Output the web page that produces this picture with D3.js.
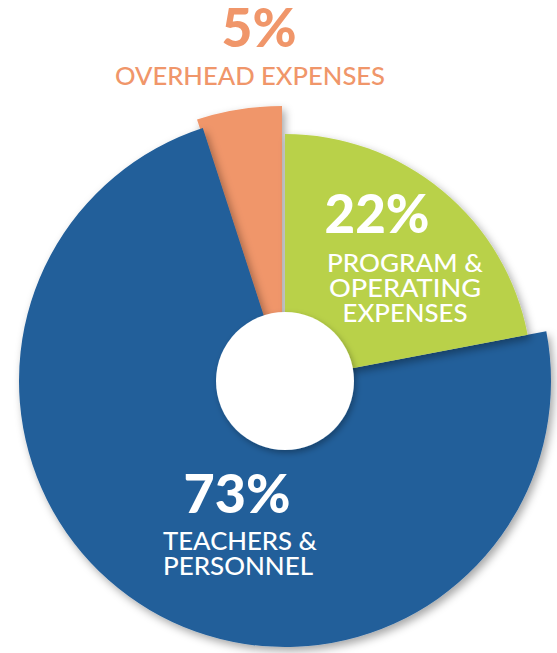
<!DOCTYPE html>
<html>
<head>
<meta charset="utf-8">
<script src="https://cdn.jsdelivr.net/npm/d3@7"></script>
<style>
  html, body { margin: 0; padding: 0; background: #fff; }
  svg { display: block; }
</style>
</head>
<body>
<svg id="chart" width="557" height="653"></svg>
<script>
// Data, in clockwise order from 12 o'clock
var categories = ["program", "teachers", "overhead"];
var values = [22, 73, 5];
var pctLabels = ["22%", "73%", "5%"];
var nameLines = [["PROGRAM &", "OPERATING", "EXPENSES"], ["TEACHERS &", "PERSONNEL"], ["OVERHEAD EXPENSES"]];

// Styling / layout per slice
var colors = { program: "#b9d14a", teachers: "#215e9a", overhead: "#f0966a" };
var outerR = { program: 247, teachers: 266, overhead: 275 };
var shift = { program: [0, 0], teachers: [0, 0], overhead: [-3, 0] };
var drawOrder = ["overhead", "teachers", "program"];

var svg = d3.select("#chart"),
    cx = 285,
    cy = 381,
    innerR = 69;

// Soft drop shadow like the reference
var defs = svg.append("defs");
defs.append("filter")
    .attr("id", "shadow")
    .attr("x", "-20%").attr("y", "-20%")
    .attr("width", "140%").attr("height", "140%")
  .append("feDropShadow")
    .attr("dx", 3).attr("dy", 4)
    .attr("stdDeviation", 4)
    .attr("flood-color", "#000")
    .attr("flood-opacity", 0.35);

var pie = d3.pie().sort(null).value(function (d) { return d.value; });
var slices = pie(categories.map(function (c, i) {
    return { key: c, value: values[i], pct: pctLabels[i], lines: nameLines[i] };
}));

var byKey = {};
slices.forEach(function (s) { byKey[s.data.key] = s; });

var g = svg.append("g").attr("transform", "translate(" + cx + "," + cy + ")");

drawOrder.forEach(function (k) {
    var s = byKey[k];
    var arc = d3.arc().innerRadius(0).outerRadius(outerR[k]);
    g.append("path")
        .attr("d", arc(s))
        .attr("transform", "translate(" + shift[k][0] + "," + shift[k][1] + ")")
        .attr("fill", colors[k])
        .attr("filter", "url(#shadow)");
});

// Hole in the middle
defs.append("filter")
    .attr("id", "holeShadow")
    .attr("x", "-30%").attr("y", "-30%")
    .attr("width", "160%").attr("height", "160%")
  .append("feDropShadow")
    .attr("dx", 2).attr("dy", 3)
    .attr("stdDeviation", 3)
    .attr("flood-color", "#000")
    .attr("flood-opacity", 0.3);

g.append("circle")
    .attr("r", innerR)
    .attr("fill", "#fff")
    .attr("filter", "url(#holeShadow)");

// Labels (offsets measured relative to the centre of the donut)
var labelPos = {
    overhead: { pct: [-26, -334], pctW: 75, anchor: "middle", lx: -35, ly: -296, lw: [270], color: colors.overhead },
    program:  { pct: [92, -148], pctW: 105, anchor: "middle", lx: 120, ly: -109, lw: [156, 152, 125], color: "#fff" },
    teachers: { pct: [-48, 132], pctW: 107, anchor: "start", lx: -122, ly: 169, lw: [154, 150], color: "#fff" }
};

var lineGap = 25;

slices.forEach(function (s) {
    var k = s.data.key, p = labelPos[k];
    g.append("text")
        .attr("x", p.pct[0])
        .attr("y", p.pct[1])
        .attr("text-anchor", "middle")
        .attr("textLength", p.pctW)
        .attr("lengthAdjust", "spacingAndGlyphs")
        .style("font-family", "Lato, 'Open Sans', sans-serif")
        .style("font-weight", 900)
        .style("font-size", "54px")
        .style("fill", p.color)
        .text(s.data.pct);

    s.data.lines.forEach(function (line, i) {
        g.append("text")
            .attr("x", p.lx)
            .attr("y", p.ly + i * lineGap)
            .attr("text-anchor", p.anchor)
            .attr("textLength", p.lw[i])
            .attr("lengthAdjust", "spacingAndGlyphs")
            .style("font-family", "Lato, 'Open Sans', sans-serif")
            .style("font-weight", 500)
            .style("font-size", "25.5px")
            .style("fill", p.color)
            .text(line);
    });
});
</script>
</body>
</html>
